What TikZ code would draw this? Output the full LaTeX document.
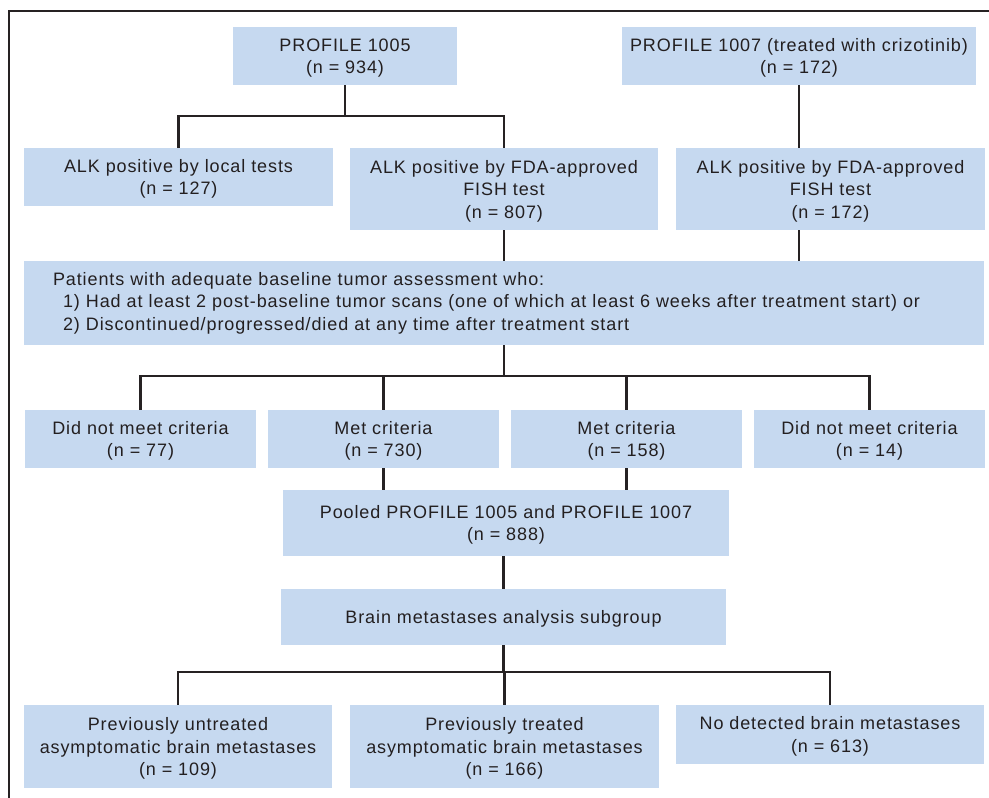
\documentclass[tikz,border=0pt]{standalone}
\usepackage{fontspec}
\setmainfont{Liberation Sans}[LetterSpace=5.0]
\definecolor{boxblue}{RGB}{198,217,240}
\definecolor{textgray}{RGB}{35,31,32}
\definecolor{linegray}{RGB}{38,34,35}
\begin{document}
\begin{tikzpicture}[x=1pt,y=-1pt,
  basebox/.style={fill=boxblue, inner sep=0pt, text=textgray,
    font=\fontsize{18}{22.5}\selectfont},
  box/.style={basebox, align=center, text depth=0pt},
  conn/.style={draw=linegray, line width=2.5pt}]
\useasboundingbox (0,0) rectangle (989,798);
\draw[draw=linegray, line width=1.6pt] (989,11) -- (9,11) -- (9,798);

\node[box, minimum width=224pt, minimum height=58pt] (p1005) at (345,56) {PROFILE 1005\\(n = 934)};
\node[box, minimum width=354pt, minimum height=58pt] (p1007) at (799,56) {PROFILE 1007 (treated with crizotinib)\\(n = 172)};
\node[box, minimum width=309pt, minimum height=58pt] (local) at (178.5,177) {ALK positive by local tests\\(n = 127)};
\node[box, minimum width=308pt, minimum height=82pt] (fda1) at (504,189) {ALK positive by FDA-approved\\FISH test\\(n = 807)};
\node[box, minimum width=309pt, minimum height=82pt] (fda2) at (830.5,189) {ALK positive by FDA-approved\\FISH test\\(n = 172)};
\node[basebox, minimum width=960pt, minimum height=84pt, text width=902pt, align=left] (patients) at (504,303)
  {Patients with adequate baseline tumor assessment who:\\
   \hspace*{10pt}1) Had at least 2 post-baseline tumor scans (one of which at least 6 weeks after treatment start) or\\
   \hspace*{10pt}2) Discontinued/progressed/died at any time after treatment start};
\node[box, minimum width=231pt, minimum height=58pt] (dnm1) at (140.5,439) {Did not meet criteria\\(n = 77)};
\node[box, minimum width=231pt, minimum height=58pt] (met1) at (383.5,439) {Met criteria\\(n = 730)};
\node[box, minimum width=231pt, minimum height=58pt] (met2) at (626.5,439) {Met criteria\\(n = 158)};
\node[box, minimum width=231pt, minimum height=58pt] (dnm2) at (869.5,439) {Did not meet criteria\\(n = 14)};
\node[box, minimum width=446pt, minimum height=66pt] (pooled) at (506,523) {Pooled PROFILE 1005 and PROFILE 1007\\(n = 888)};
\node[box, minimum width=445pt, minimum height=56pt] (brain) at (503.5,617) {Brain metastases analysis subgroup};
\node[box, minimum width=308pt, minimum height=83pt] (un) at (178,746.5) {Previously untreated\\asymptomatic brain metastases\\(n = 109)};
\node[box, minimum width=309pt, minimum height=83pt] (tr) at (504.5,746.5) {Previously treated\\asymptomatic brain metastases\\(n = 166)};
\node[box, minimum width=308pt, minimum height=59pt] (nd) at (830,734.5) {No detected brain metastases\\(n = 613)};

\draw[conn] (p1005.south) -- ++(0,31);
\draw[conn] (local.north) -- ++(0,-32) -| (fda1.north);
\draw[conn] (p1007.south) -- (p1007.south |- fda2.north);
\draw[conn] (fda1.south) -- (fda1.south |- patients.north);
\draw[conn] (p1007.south |- fda2.south) -- (p1007.south |- patients.north);
\draw[conn] (patients.south) -- ++(0,32);
\draw[conn] (dnm1.north) -- ++(0,-34) -| (dnm2.north);
\draw[conn] (met1.north) -- ++(0,-34);
\draw[conn] (met2.north) -- ++(0,-34);
\draw[conn] (met1.south) -- (met1.south |- pooled.north);
\draw[conn] (met2.south) -- (met2.south |- pooled.north);
\draw[conn] (brain.north |- pooled.south) -- (brain.north);
\draw[conn] (brain.south) -- ++(0,27);
\draw[conn] (un.north) -- ++(0,-33) -| (nd.north);
\draw[conn] (tr.north) -- ++(0,-33);
\end{tikzpicture}
\end{document}
